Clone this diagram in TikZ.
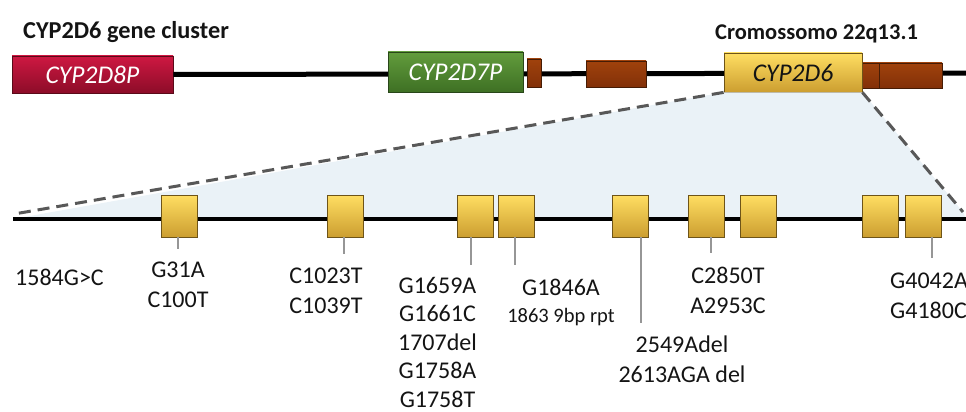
\documentclass[tikz,border=0pt]{standalone}
\usepackage{fontspec}
\setmainfont{Carlito}
\definecolor{redtop}{RGB}{206,24,66}
\definecolor{redbot}{RGB}{140,12,40}
\definecolor{redline}{RGB}{90,10,25}
\definecolor{greentop}{RGB}{98,156,60}
\definecolor{greenbot}{RGB}{62,112,36}
\definecolor{greenline}{RGB}{40,70,25}
\definecolor{browntop}{RGB}{160,66,12}
\definecolor{brownbot}{RGB}{130,48,8}
\definecolor{brownline}{RGB}{70,28,5}
\definecolor{yeltop}{RGB}{255,222,98}
\definecolor{yelbot}{RGB}{204,158,48}
\definecolor{yelline}{RGB}{110,84,24}
\definecolor{fanfill}{RGB}{234,242,247}
\definecolor{dashgray}{RGB}{88,88,88}
\definecolor{tickgray}{RGB}{150,150,150}
\definecolor{txt}{RGB}{20,20,20}
\begin{document}
\begin{tikzpicture}[x=1pt,y=-1pt,
  genebox/.style={draw, line width=0.8pt, inner sep=0pt},
  redbox/.style={genebox, draw=redline, top color=redtop, bottom color=redbot},
  greenbox/.style={genebox, draw=greenline, top color=greentop, bottom color=greenbot},
  brownbox/.style={genebox, draw=brownline, top color=browntop, bottom color=brownbot},
  yelbox/.style={genebox, draw=yelline, top color=yeltop, bottom color=yelbot},
  exon/.style={yelbox, minimum width=36pt, minimum height=42pt},
  boxlabel/.style={font=\fontsize{25.5}{29}\selectfont\itshape},
  title/.style={font=\fontsize{22.5}{27}\selectfont\bfseries, text=txt, inner sep=0pt, anchor=base west},
  chrline/.style={line width=5pt, black},
  zoomline/.style={dashgray, line width=3pt, dash pattern=on 12pt off 7pt},
  tickline/.style={tickgray, line width=1.1pt},
  lbl/.style={font=\fontsize{24}{29.3}\selectfont, text=txt, align=center, anchor=base, inner sep=0pt},
  smalllbl/.style={font=\fontsize{20.5}{24}\selectfont, text=txt, anchor=base, inner sep=0pt}
]
\useasboundingbox (0,0) rectangle (966,412);
\clip (0,0) rectangle (966,412);
\fill[white] (0,0) rectangle (966,412);

% titles
\node[title, font=\fontsize{24.3}{28}\selectfont\bfseries] (t1) at (23,39) {CYP2D6 gene cluster};
\node[title] (t2) at (715,39.5) {Cromossomo 22q13.1};

% gene cluster line
\coordinate (topend) at (970,73);
\node[redbox, minimum width=161pt, minimum height=37pt] (d8p) at (92.5,74.5) {};
\draw[chrline] (d8p.east) -- (topend);
\node[greenbox, minimum width=135pt, minimum height=40pt] (d7p) at (455.5,72) {};
\node[brownbox, minimum width=14pt, minimum height=28pt] (b1) at (534,73) {};
\node[brownbox, minimum width=60pt, minimum height=26pt] (b2) at (616,74) {};
\node[brownbox, minimum width=17pt, minimum height=25pt] (b3) at (870.5,75.5) {};
\node[brownbox, minimum width=63pt, minimum height=25pt] (b4) at (910.5,75.5) {};
\node[yelbox, minimum width=138pt, minimum height=39pt] (d6) at (793,72.5) {};
\node[boxlabel, text=white] at (d8p) {CYP2D8P};
\node[boxlabel, text=white] at (d7p) {CYP2D7P};
\node[boxlabel, text=txt] at (d6) {CYP2D6};

% zoom fan
\coordinate (fl) at (14,214);
\coordinate (fr) at (963,212);
\fill[fanfill] (d6.south west) -- (d6.south east) -- (fr) -- (966,219) -- (13,219) -- cycle;
\draw[zoomline] (d6.south west) -- (fl);
\draw[zoomline] (d6.south east) -- (fr);

% gene line
\coordinate (gl) at (13,219);
\coordinate (gr) at (970,219);
\draw[chrline, line width=4.5pt] (gl) -- (gr);

% exons
\node[exon] (e1) at (179,216) {};
\node[exon] (e2) at (345,216) {};
\node[exon] (e3) at (475,216) {};
\node[exon] (e4) at (516.5,216) {};
\node[exon] (e5) at (630,216) {};
\node[exon] (e6) at (706.5,216) {};
\node[exon] (e7) at (758.5,216) {};
\node[exon] (e8) at (880,216) {};
\node[exon] (e9) at (923.5,216) {};

% ticks
\coordinate (k1) at (178,249);
\coordinate (k2) at (344,254);
\coordinate (k3) at (471,265);
\coordinate (k4) at (515,265);
\coordinate (k5) at (641,323);
\coordinate (k6) at (711,253);
\coordinate (k9) at (932,258);
\draw[tickline] (k1 |- e1.south) -- (k1);
\draw[tickline] (k2 |- e2.south) -- (k2);
\draw[tickline] (k3 |- e3.south) -- (k3);
\draw[tickline] (k4 |- e4.south) -- (k4);
\draw[tickline] (k5 |- e5.south) -- (k5);
\draw[tickline] (k6 |- e6.south) -- (k6);
\draw[tickline] (k9 |- e9.south) -- (k9);

% labels (base anchor = baseline of last line)
\node[lbl, anchor=base west] (l1) at (15,285) {1584G>C};
\node[lbl] (l2) at (178,307) {G31A\\C100T};
\node[lbl] (l3) at (326,313) {C1023T\\C1039T};
\node[lbl, font=\fontsize{24}{28.6}\selectfont] (l4) at (437.5,407.5) {G1659A\\G1661C\\1707del\\G1758A\\G1758T};
\node[lbl] (l5) at (561,295) {G1846A};
\node[smalllbl] (l5b) at (561,322) {1863 9bp rpt};
\node[lbl] (l6) at (728,313) {C2850T\\A2953C};
\node[lbl] (l7) at (682,382) {2549Adel\\2613AGA del};
\node[lbl, align=left, anchor=base west] (l8) at (890,318) {G4042A\\G4180C};
\end{tikzpicture}
\end{document}
